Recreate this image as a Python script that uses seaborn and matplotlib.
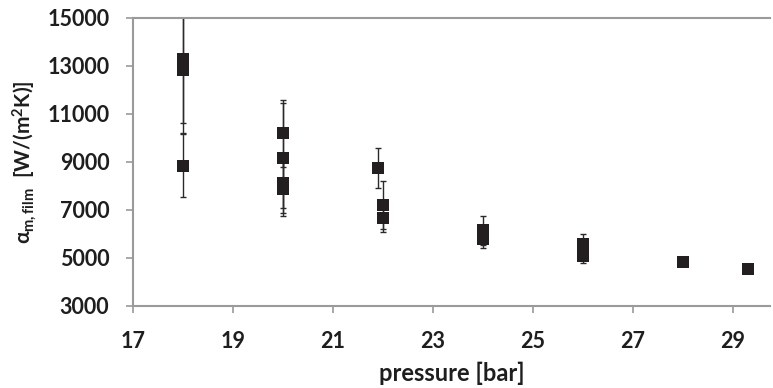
import matplotlib
matplotlib.use("Agg")
import matplotlib.pyplot as plt
import seaborn as sns
import pandas as pd
import numpy as np

# data
pressure = [18, 18, 18, 20, 20, 20, 20, 21.9, 22, 22, 24, 24, 24, 26, 26, 26, 28, 29.3]
alpha = [13300, 12850, 8850, 10200, 9170, 8130, 7875, 8750, 7210, 6670,
         6150, 5950, 5800, 5600, 5350, 5100, 4850, 4550]
alpha_err = [2680, 2650, 1320, 1400, 2300, 1050, 1125, 820, 990, 600,
             600, 300, 380, 400, 200, 310, 150, 80]
xticks = [17, 19, 21, 23, 25, 27, 29]
yticks = [3000, 5000, 7000, 9000, 11000, 13000, 15000]

df = pd.DataFrame({"pressure": pressure, "alpha": alpha, "err": alpha_err})

sns.set_style("white")
plt.rcParams["font.family"] = ["Lato", "DejaVu Sans"]
plt.rcParams["mathtext.fontset"] = "custom"
plt.rcParams["mathtext.rm"] = "Lato:bold"
plt.rcParams["mathtext.bf"] = "Lato:bold"
plt.rcParams["mathtext.it"] = "Lato:bold"

fig = plt.figure(figsize=(7.73, 3.88), dpi=100)
ax = fig.add_axes([133 / 773, 1 - 306 / 388, (770 - 133) / 773, (306 - 18) / 388])

ax.errorbar(df["pressure"], df["alpha"], yerr=df["err"], fmt="none",
            ecolor="#2a2a2a", elinewidth=1.0, capsize=2.5, capthick=1.0, zorder=2)
sns.scatterplot(data=df, x="pressure", y="alpha", marker="s", s=72,
                color="#231f20", edgecolor="#231f20", linewidth=0, ax=ax, zorder=3)

ax.set_xlim(17, 17 + (770 - 133) / 50)
ax.set_ylim(3000, 15000)
ax.set_xticks(xticks)
ax.set_yticks(yticks)
ax.set_xticklabels([str(t) for t in xticks], fontsize=15.5, fontweight="bold", color="#1e1e1e")
ax.set_yticklabels([str(t) for t in yticks], fontsize=15.5, fontweight="bold", color="#1e1e1e")

for side in ["left", "bottom", "top"]:
    ax.spines[side].set_visible(True)
    ax.spines[side].set_color("#9a9a9a")
    ax.spines[side].set_linewidth(1.5)
ax.spines["right"].set_visible(False)
ax.tick_params(axis="both", which="major", direction="out", length=5, width=1.2,
               color="#9a9a9a", bottom=True, left=True)
ax.tick_params(axis="y", pad=12)
ax.tick_params(axis="x", pad=13)

ax.set_xlabel("pressure [bar]", fontsize=17, fontweight="bold", color="#1e1e1e", labelpad=7)
ax.set_ylabel(r"$\alpha_{\mathregular{m,film}}$  [W/(m$^{\mathregular{2}}$K)]",
              fontsize=15, fontweight="bold", color="#1e1e1e", labelpad=6)

fig.savefig("out.png", dpi=100)
